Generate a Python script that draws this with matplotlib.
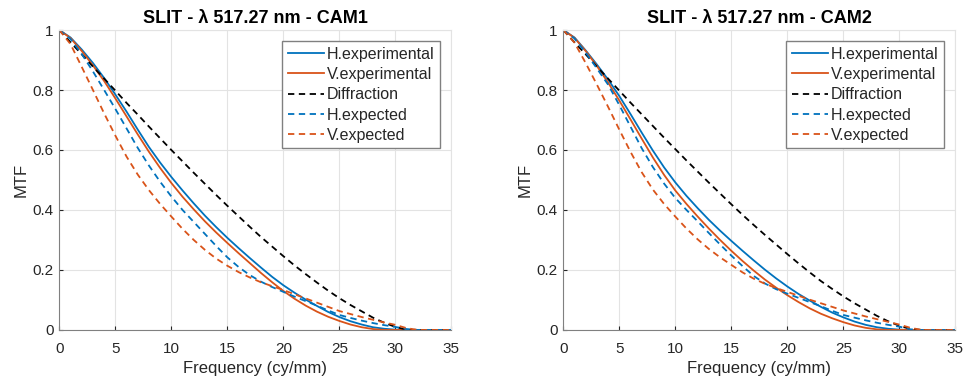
import numpy as np
import matplotlib
matplotlib.use("Agg")
import matplotlib.pyplot as plt

plt.rcParams['font.family'] = ['Liberation Sans', 'DejaVu Sans']

freq = list(range(0, 36))

# CAM1 curves (MTF vs frequency in cy/mm)
cam1_h_exp = [1.0, 0.975, 0.935, 0.89, 0.84, 0.785, 0.728, 0.668, 0.61, 0.558,
              0.51, 0.465, 0.422, 0.381, 0.343, 0.307, 0.273, 0.24, 0.208, 0.177,
              0.149, 0.124, 0.101, 0.08, 0.06, 0.043, 0.029, 0.018, 0.009, 0.004,
              0.001, 0, 0, 0, 0, 0]
cam1_v_exp = [1.0, 0.973, 0.93, 0.882, 0.83, 0.772, 0.712, 0.652, 0.594, 0.54,
              0.49, 0.444, 0.402, 0.362, 0.325, 0.29, 0.256, 0.223, 0.19, 0.159,
              0.13, 0.104, 0.081, 0.061, 0.044, 0.03, 0.018, 0.009, 0.003, 0,
              0, 0, 0, 0, 0, 0]
cam1_diff = [1.0, 0.959, 0.919, 0.878, 0.838, 0.798, 0.757, 0.718, 0.678, 0.639,
             0.6, 0.562, 0.524, 0.487, 0.45, 0.414, 0.379, 0.344, 0.31, 0.278,
             0.246, 0.215, 0.186, 0.158, 0.131, 0.106, 0.083, 0.062, 0.041, 0.024,
             0.01, 0.001, 0, 0, 0, 0]
cam1_h_expd = [1.0, 0.97, 0.92, 0.862, 0.8, 0.737, 0.672, 0.607, 0.548, 0.494,
               0.445, 0.4, 0.36, 0.32, 0.28, 0.242, 0.21, 0.183, 0.161, 0.143,
               0.127, 0.111, 0.096, 0.081, 0.065, 0.05, 0.04, 0.031, 0.023, 0.016,
               0.01, 0.003, 0, 0, 0, 0]
cam1_v_expd = [1.0, 0.953, 0.877, 0.8, 0.722, 0.648, 0.578, 0.518, 0.466, 0.42,
               0.378, 0.337, 0.3, 0.267, 0.238, 0.214, 0.193, 0.175, 0.159, 0.146,
               0.133, 0.119, 0.105, 0.091, 0.077, 0.063, 0.053, 0.043, 0.034, 0.025,
               0.017, 0.006, 0, 0, 0, 0]

# CAM2 curves
cam2_h_exp = [1.0, 0.975, 0.932, 0.885, 0.835, 0.78, 0.72, 0.658, 0.598, 0.542,
              0.492, 0.447, 0.406, 0.367, 0.331, 0.297, 0.264, 0.232, 0.201, 0.172,
              0.145, 0.12, 0.098, 0.077, 0.058, 0.042, 0.028, 0.017, 0.009, 0.004,
              0.001, 0, 0, 0, 0, 0]
cam2_v_exp = [1.0, 0.974, 0.93, 0.88, 0.825, 0.765, 0.702, 0.638, 0.575, 0.517,
              0.465, 0.42, 0.378, 0.338, 0.3, 0.264, 0.23, 0.198, 0.168, 0.141,
              0.116, 0.093, 0.072, 0.054, 0.039, 0.026, 0.015, 0.007, 0.002, 0,
              0, 0, 0, 0, 0, 0]
cam2_diff = [1.0, 0.959, 0.919, 0.878, 0.838, 0.798, 0.758, 0.719, 0.68, 0.641,
             0.603, 0.565, 0.528, 0.491, 0.455, 0.419, 0.384, 0.35, 0.317, 0.285,
             0.253, 0.222, 0.192, 0.163, 0.137, 0.112, 0.089, 0.068, 0.047, 0.029,
             0.014, 0.003, 0, 0, 0, 0]
cam2_h_expd = [1.0, 0.972, 0.925, 0.872, 0.818, 0.75, 0.678, 0.606, 0.543, 0.488,
               0.44, 0.4, 0.362, 0.323, 0.285, 0.248, 0.213, 0.18, 0.155, 0.136,
               0.121, 0.107, 0.093, 0.079, 0.064, 0.05, 0.041, 0.032, 0.024, 0.017,
               0.011, 0.002, 0, 0, 0, 0]
cam2_v_expd = [1.0, 0.958, 0.89, 0.818, 0.744, 0.668, 0.594, 0.526, 0.468, 0.42,
               0.378, 0.338, 0.302, 0.27, 0.242, 0.217, 0.192, 0.171, 0.154, 0.14,
               0.127, 0.114, 0.101, 0.089, 0.077, 0.065, 0.055, 0.045, 0.036, 0.027,
               0.018, 0.007, 0, 0, 0, 0]

labels = ["H.experimental", "V.experimental", "Diffraction", "H.expected", "V.expected"]
titles = [u"SLIT - \u03bb 517.27 nm - CAM1", u"SLIT - \u03bb 517.27 nm - CAM2"]

BLUE = '#0072BD'
ORANGE = '#D95319'
TXT = '#262626'


def draw(ax, title, h_exp, v_exp, diff, h_expd, v_expd):
    lw = 1.3
    dash = (3.5, 2.5)
    ax.plot(freq, h_exp, color=BLUE, lw=lw, label=labels[0])
    ax.plot(freq, v_exp, color=ORANGE, lw=lw, label=labels[1])
    ax.plot(freq, diff, color='black', lw=lw, ls='--', dashes=dash, label=labels[2])
    ax.plot(freq, h_expd, color=BLUE, lw=lw, ls='--', dashes=dash, label=labels[3])
    ax.plot(freq, v_expd, color=ORANGE, lw=lw, ls='--', dashes=dash, label=labels[4])
    ax.set_xlim(0, 35)
    ax.set_ylim(0, 1)
    ax.set_xticks(range(0, 36, 5))
    ax.set_yticks([0, 0.2, 0.4, 0.6, 0.8, 1])
    ax.set_yticklabels(["0", "0.2", "0.4", "0.6", "0.8", "1"])
    ax.grid(True, color='#e3e3e3', lw=0.8)
    ax.set_axisbelow(True)
    ax.tick_params(direction='in', length=3, labelsize=11, colors=TXT, pad=4)
    ax.tick_params(axis='x', pad=8.5)
    for s in ['left', 'bottom']:
        ax.spines[s].set_color('#808080')
    for s in ['top', 'right']:
        ax.spines[s].set_color('#e3e3e3')
    ax.set_title(title, fontsize=13, fontweight='bold', pad=5)
    ax.set_xlabel("Frequency (cy/mm)", fontsize=12, color=TXT, labelpad=4)
    ax.set_ylabel("MTF", fontsize=12, color=TXT, labelpad=3)
    leg = ax.legend(loc='upper right', fontsize=11.5, fancybox=False, framealpha=1,
                    edgecolor='#808080', handlelength=2.25, handletextpad=0.2,
                    labelspacing=0.33, borderpad=0.35, borderaxespad=0.7)
    leg.get_frame().set_linewidth(1.0)
    for t in leg.get_texts():
        t.set_color(TXT)


fig = plt.figure(figsize=(9.68, 3.85), dpi=100)
ax1 = fig.add_axes([0.0613, 0.143, 0.405, 0.779])
ax2 = fig.add_axes([0.5819, 0.143, 0.405, 0.779])

draw(ax1, titles[0], cam1_h_exp, cam1_v_exp, cam1_diff, cam1_h_expd, cam1_v_expd)
draw(ax2, titles[1], cam2_h_exp, cam2_v_exp, cam2_diff, cam2_h_expd, cam2_v_expd)

fig.savefig("out.png", dpi=100)
